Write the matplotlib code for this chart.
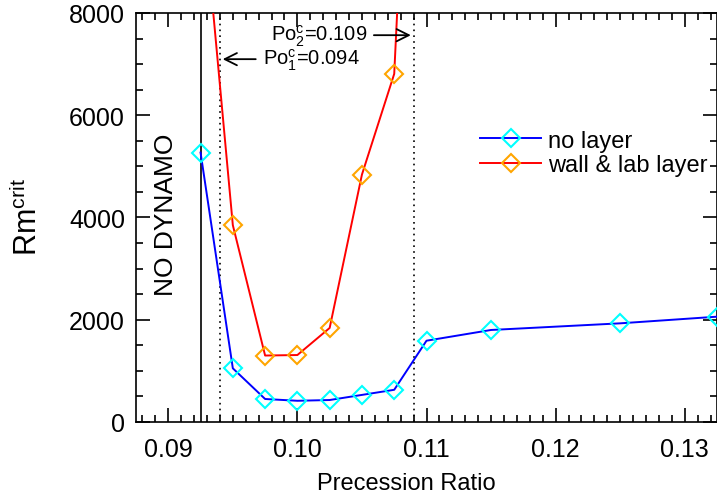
import matplotlib
matplotlib.use("Agg")
import matplotlib.pyplot as plt
from matplotlib.ticker import MultipleLocator
from matplotlib.lines import Line2D

plt.rcParams['font.family'] = ['Liberation Sans', 'DejaVu Sans']
plt.rcParams['mathtext.fontset'] = 'custom'
plt.rcParams['mathtext.rm'] = 'Liberation Sans'
plt.rcParams['mathtext.it'] = 'Liberation Sans'

# Data
po_nolayer = [0.0925, 0.095, 0.0975, 0.100, 0.1025, 0.105, 0.1075, 0.110, 0.115, 0.125, 0.1325]
rm_nolayer = [5270, 1050, 450, 415, 430, 530, 630, 1590, 1800, 1930, 2060]
po_wall = [0.0925, 0.095, 0.0975, 0.100, 0.1025, 0.105, 0.1075, 0.110]
rm_wall = [10700, 3850, 1300, 1310, 1840, 4840, 6810, 20000]
po_c1 = 0.094
po_c2 = 0.109
po_nodynamo = 0.0925
xtick_vals = [0.09, 0.10, 0.11, 0.12, 0.13]
xtick_labels = ['0.09', '0.10', '0.11', '0.12', '0.13']

W, H = 717, 502
fig = plt.figure(figsize=(W / 100, H / 100), dpi=100)
ax = fig.add_axes([136 / W, 1 - 423 / H, 581 / W, (423 - 14) / H])

ms = 9.5
ax.plot(po_nolayer, rm_nolayer, color='blue', lw=1.4, zorder=3)
ax.plot(po_nolayer, rm_nolayer, ls='none', marker='D', ms=ms, mfc='none',
        mec='cyan', mew=1.5, zorder=4, clip_on=False)
ax.plot(po_wall, rm_wall, color='red', lw=1.4, zorder=3)
ax.plot(po_wall[1:-1], rm_wall[1:-1], ls='none', marker='D', ms=ms, mfc='none',
        mec='orange', mew=1.5, zorder=4)

ax.axvline(po_nodynamo, color='black', lw=1.2)
ax.axvline(po_c1, color='black', lw=1.2, ls=(0, (1, 2.5)))
ax.axvline(po_c2, color='black', lw=1.2, ls=(0, (1, 2.5)))

ax.set_xlim(0.0875, 0.1325)
ax.set_ylim(0, 8000)
ax.xaxis.set_minor_locator(MultipleLocator(0.001))
ax.yaxis.set_major_locator(MultipleLocator(2000))
ax.yaxis.set_minor_locator(MultipleLocator(500))
ax.set_xticks(xtick_vals)
ax.set_xticklabels(xtick_labels)
ax.tick_params(which='both', direction='in', top=True, right=True, width=1.2, labelsize=18)
ax.tick_params(which='major', length=10)
ax.tick_params(which='minor', length=5)
ax.tick_params(axis='x', pad=11)
ax.tick_params(axis='y', pad=8)
for s in ax.spines.values():
    s.set_linewidth(1.2)

fig.text(406 / W, 1 - 484 / H, 'Precession Ratio', fontsize=17, ha='center', va='center')
fig.text(28 / W, 1 - 217 / H, 'Rm$^{\\mathrm{crit}}$', fontsize=22, rotation=90,
         ha='center', va='center')

ax.text(0.0898, (423 - 215) / 0.05115, 'NO DYNAMO', rotation=90, fontsize=19,
        ha='center', va='center')

ax.annotate('', xy=(po_c2, 7566), xytext=(0.10571, 7566),
            arrowprops=dict(arrowstyle='->', color='black', lw=1.3, mutation_scale=22))
ax.text(0.10541, 7566, 'Po$_2^c$=0.109', fontsize=14.5, ha='right', va='center')
ax.annotate('', xy=(po_c1, 7097), xytext=(0.09699, 7097),
            arrowprops=dict(arrowstyle='->', color='black', lw=1.3, mutation_scale=22))
ax.text(0.09737, 7097, 'Po$_1^c$=0.094', fontsize=14.5, ha='left', va='center')

h1 = Line2D([], [], color='blue', lw=1.4, marker='D', ms=ms, mfc='none', mec='cyan', mew=1.5)
h2 = Line2D([], [], color='red', lw=1.4, marker='D', ms=ms, mfc='none', mec='orange', mew=1.5)
ax.legend([h1, h2], ['no layer', 'wall & lab layer'], loc='center left',
          bbox_to_anchor=((480 - 136) / 581, (423 - 154) / 409), frameon=False, fontsize=17,
          handlelength=2.6, handletextpad=0.3, labelspacing=0.12, borderaxespad=0,
          borderpad=0)

fig.savefig('out.png', dpi=100)
